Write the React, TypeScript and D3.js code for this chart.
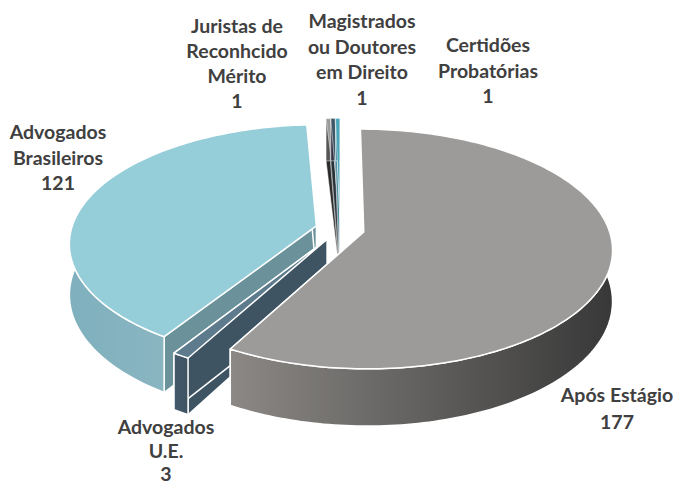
import * as d3 from 'd3';
import React from 'react';

// values in pie order, clockwise from twelve o'clock
const names = ['Após Estágio', 'Advogados U.E.', 'Advogados Brasileiros', 'Juristas', 'Magistrados', 'Certidões'];
const values = [177, 3, 121, 1, 1, 1];
const topColors = ['#9c9b9a', '#5d7b8d', '#95cdd9', '#9a9a9a', '#3d5564', '#4ba5ba'];
const wallColors = ['#8a8885', '#3f5463', '#6b929b', '#2b2b2b', '#26323a', '#3b8599'];

// outer wall gradient, left colour to right colour
const outerLeft = ['#8b8885', '#44596a', '#7fb0bd', '#555', '#334', '#3b8599'];
const outerRight = ['#383838', '#3f5463', '#9abdc8', '#555', '#334', '#3b8599'];

// which order the slices get painted, back to front
const paintOrder = [3, 4, 5, 2, 1, 0];

const labelLines = [
  ['Após Estágio', '177'],
  ['Advogados', 'U.E.', '3'],
  ['Advogados', 'Brasileiros', '121'],
  ['Juristas de', 'Reconhcido', 'Mérito', '1'],
  ['Magistrados', 'ou Doutores', 'em Direito', '1'],
  ['Certidões', 'Probatórias', '1'],
];
const labelX = [617, 166, 58, 237, 362, 488];
const labelY = [402, 434, 139, 33, 28, 52];
const labelStep = [26.5, 23.5, 25.5, 25, 25.5, 25.5];

const width = 676;
const height = 486;

// fake 3D camera
const cx = 340;
const cy = 229;
const rx = 245;
const ry = 119;
const persp = 0.142;
const depth = 50;
const explode = 0.1;

const project = (x: number, y: number, z = 0): [number, number] => {
  const p = 1 + persp * y;
  return [cx + x * rx * p, cy + y * ry * p + z * depth * p];
};

const lineGen = d3.line();

const slices = d3.pie<number>().sort(null)(values);

function sliceGeometry(i: number) {
  const s = slices[i];
  const mid = (s.startAngle + s.endAngle) / 2;
  const ox = Math.sin(mid) * explode;
  const oy = -Math.cos(mid) * explode;
  const at = (a: number, r: number, z: number) =>
    project(ox + Math.sin(a) * r, oy - Math.cos(a) * r, z);

  const n = Math.max(2, Math.ceil((s.endAngle - s.startAngle) / 0.02));
  const angles = d3.range(n + 1).map(k => s.startAngle + (s.endAngle - s.startAngle) * k / n);

  const top = lineGen([at(0, 0, 0), ...angles.map(a => at(a, 1, 0))]) + 'Z';
  const wall = (a: number) =>
    lineGen([at(a, 0, 0), at(a, 1, 0), at(a, 1, 1), at(a, 0, 1)]) + 'Z';
  const outer = lineGen([
    ...angles.map(a => at(a, 1, 0)),
    ...angles.slice().reverse().map(a => at(a, 1, 1)),
  ]) + 'Z';

  const xs = angles.map(a => at(a, 1, 0)[0]);
  return { top, wallA: wall(s.startAngle), wallB: wall(s.endAngle), outer, x0: d3.min(xs)!, x1: d3.max(xs)! };
}

export default function App() {
  const geo = values.map((_, i) => sliceGeometry(i));

  return (
    <svg width={width} height={height} style={{ position: 'absolute', left: 0, top: 0, background: '#fff' }}>
      <defs>
        {geo.map((g, i) => (
          <linearGradient key={i} id={`outer${i}`} gradientUnits="userSpaceOnUse" x1={g.x0} x2={g.x1} y1={0} y2={0}>
            <stop offset="0" stopColor={outerLeft[i]} />
            <stop offset="1" stopColor={outerRight[i]} />
          </linearGradient>
        ))}
      </defs>

      {paintOrder.map(i => (
        <g key={names[i]} stroke="#fff" strokeWidth={i > 2 ? 0.5 : 1.5} strokeLinejoin="round">
          <path d={geo[i].wallA} fill={wallColors[i]} />
          <path d={geo[i].wallB} fill={wallColors[i]} />
          <path d={geo[i].outer} fill={`url(#outer${i})`} />
          <path d={geo[i].top} fill={topColors[i]} />
        </g>
      ))}

      {labelLines.map((lines, i) => (
        <text key={i} textAnchor="middle" fontFamily="Lato" fontWeight={700} fontSize={19.5} fill="#404040">
          {lines.map((t, j) => (
            <tspan key={j} x={labelX[i]} y={labelY[i] + j * labelStep[i]}>{t}</tspan>
          ))}
        </text>
      ))}
    </svg>
  );
}
